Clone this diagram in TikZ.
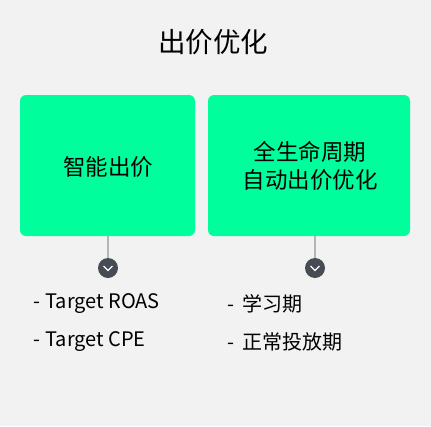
\documentclass[tikz,border=0pt]{standalone}
\usepackage{fontspec}
\setmainfont{Noto Sans CJK SC}
\usepackage{tikz}
\usepackage{xcolor}
\definecolor{bgGray}{HTML}{F2F2F2}
\definecolor{mintGreen}{HTML}{00FF9C}
\definecolor{knobGray}{HTML}{474B53}
\definecolor{stemGray}{HTML}{B4B4B4}
\tikzset{
  panel/.style={fill=mintGreen, rounded corners=6pt},
  stem/.style={draw=stemGray, line width=2pt},
  knob/.style={circle, fill=knobGray, minimum size=20pt, inner sep=0pt},
  chevron/.style={draw=white, line width=1.4pt},
  item/.style={anchor=west, inner sep=0.75pt, font=\fontsize{20}{24}\selectfont}
}
\begin{document}
\begin{tikzpicture}[x=1pt,y=1pt,yscale=-1,xscale=1]
\fill[bgGray] (0,0) rectangle (431,426);
\useasboundingbox (0,0) rectangle (431,426);
% title
\draw (213,42) node (title) [inner sep=0pt, font=\fontsize{27.5}{30}\selectfont] {出价优化};
% green panels
\fill[panel] (20,95) rectangle (195,236);
\fill[panel] (208,95) rectangle (410,236);
\coordinate (leftBottom) at (108,236);
\coordinate (rightBottom) at (315,236);
\draw (108,167) node (smartBid) [inner sep=0pt, font=\fontsize{22.5}{26}\selectfont] {智能出价};
\draw (310,166) node (autoBid) [inner sep=0pt, align=center, font=\fontsize{22.5}{28}\selectfont] {全生命周期\\自动出价优化};
% knobs
\draw (108,268) node (leftKnob) [knob] {};
\draw (315,268) node (rightKnob) [knob] {};
\draw[stem] (leftBottom) -- (leftKnob.north);
\draw[stem] (rightBottom) -- (rightKnob.north);
\draw[chevron] ([xshift=-4.5pt,yshift=-2pt]leftKnob.center) -- ([yshift=2.5pt]leftKnob.center) -- ([xshift=4.5pt,yshift=-2pt]leftKnob.center);
\draw[chevron] ([xshift=-4.5pt,yshift=-2pt]rightKnob.center) -- ([yshift=2.5pt]rightKnob.center) -- ([xshift=4.5pt,yshift=-2pt]rightKnob.center);
% lists
\draw (33,304) node (roas) [item] {-\ Target ROAS};
\draw (33,342) node (cpe) [item] {-\ Target CPE};
\draw (227,304) node (learn) [item] {-\ \,学习期};
\draw (227,342) node (steady) [item] {-\ \,正常投放期};
\end{tikzpicture}
\end{document}
